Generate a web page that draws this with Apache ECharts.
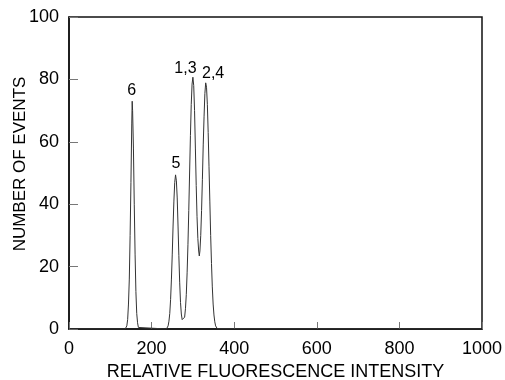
<!DOCTYPE html>
<html>
<head>
<meta charset="utf-8">
<script src="https://cdn.jsdelivr.net/npm/echarts@6/dist/echarts.min.js"></script>
<style>
  html, body { margin: 0; padding: 0; background: #fff; }
  #chart { width: 505px; height: 380px; }
</style>
</head>
<body>
<div id="chart"></div>
<script>
// histogram trace
const intensity = [
  0, 136, 138, 140, 142, 144, 146, 148, 150, 152, 153, 154, 156, 158, 160, 162, 164, 166, 168, 170,
  236, 238, 240, 242, 244, 246, 248, 250, 252, 254, 256, 258, 260, 262, 264, 266, 268, 270, 272, 274, 276, 277,
  278, 280, 282, 284, 286, 288, 290, 292, 294, 296, 298, 300, 302, 304, 306, 308, 310, 312, 314, 315.5,
  317, 319, 321, 323, 325, 327, 329, 331, 333, 335, 337, 339, 341, 343, 345, 347, 349, 351, 353, 355, 357, 359, 361,
  1000
]
const events = [
  0, 0, 0.3, 1, 3, 8, 16, 30, 47, 66, 73, 70, 58, 40, 24, 12, 5, 2, 0.5, 0,
  0, 0.3, 1, 2.5, 5, 9.5, 16, 24, 33, 41, 47, 49.4, 47.5, 42, 33, 23.5, 15, 8.5, 4.8, 3, 2.4, 2.3,
  2.5, 3.8, 6.5, 11, 18, 27, 38, 50, 62, 72, 78.5, 80.7, 78, 70, 58, 46, 36, 29, 25, 23.4,
  25, 30, 38, 48, 59, 68, 75.5, 78.9, 77.5, 72, 63, 52, 41, 30, 21, 13.5, 8, 4.5, 2.3, 1, 0.4, 0.1, 0,
  0
]

const peakNames = ['6', '5', '1,3', '2,4']
const peakNameX = [152, 259, 282, 349]
const peakNameY = [76.5, 53, 83.5, 82]

const xTicks = { min: 0, max: 1000, interval: 200 }
const yTicks = { min: 0, max: 100, interval: 20 }

const FONT = '"Liberation Sans", Arial, sans-serif'

const chart = echarts.init(document.getElementById('chart'))

chart.setOption({
  backgroundColor: '#fff',
  animation: false,
  grid: {
    left: 69, right: 23, top: 17, bottom: 51,
    outerBoundsMode: 'none',
    containLabel: false,
    show: true, borderColor: '#111', borderWidth: 1.5
  },
  xAxis: {
    type: 'value',
    min: xTicks.min, max: xTicks.max, interval: xTicks.interval,
    name: 'RELATIVE FLUORESCENCE INTENSITY',
    nameLocation: 'middle',
    nameGap: 34,
    nameMoveOverlap: false,
    nameTextStyle: { color: '#000', fontSize: 18, fontFamily: FONT },
    axisLine: { lineStyle: { color: '#111', width: 1.5 } },
    axisTick: { inside: true, length: 7, lineStyle: { color: '#777' } },
    axisLabel: { color: '#000', fontSize: 18, fontFamily: FONT, margin: 11, formatter: (v) => String(v) },
    splitLine: { show: false }
  },
  yAxis: {
    type: 'value',
    min: yTicks.min, max: yTicks.max, interval: yTicks.interval,
    name: 'NUMBER OF EVENTS',
    nameLocation: 'middle',
    nameGap: 40,
    nameMoveOverlap: false,
    nameTextStyle: { color: '#000', fontSize: 17, fontFamily: FONT, padding: [0, 0, 0, 18] },
    axisLine: { show: true, lineStyle: { color: '#111', width: 1.5 } },
    axisTick: { show: true, inside: true, length: 9, lineStyle: { color: '#777' } },
    axisLabel: { color: '#000', fontSize: 18, fontFamily: FONT, margin: 10, formatter: (v) => String(v) },
    splitLine: { show: false }
  },
  series: [
    {
      type: 'line',
      data: intensity.map((x, i) => [x, events[i]]),
      showSymbol: false,
      lineStyle: { color: '#333', width: 1 },
      z: 3
    },
    {
      type: 'scatter',
      symbolSize: 0,
      silent: true,
      data: peakNames.map((n, i) => [peakNameX[i], peakNameY[i], n]),
      label: {
        show: true,
        position: 'top',
        distance: -8,
        formatter: (p) => p.data[2],
        color: '#000',
        opacity: 1,
        textBorderWidth: 0,
        fontSize: 16,
        fontFamily: FONT
      },
      z: 4
    }
  ]
})
</script>
</body>
</html>
